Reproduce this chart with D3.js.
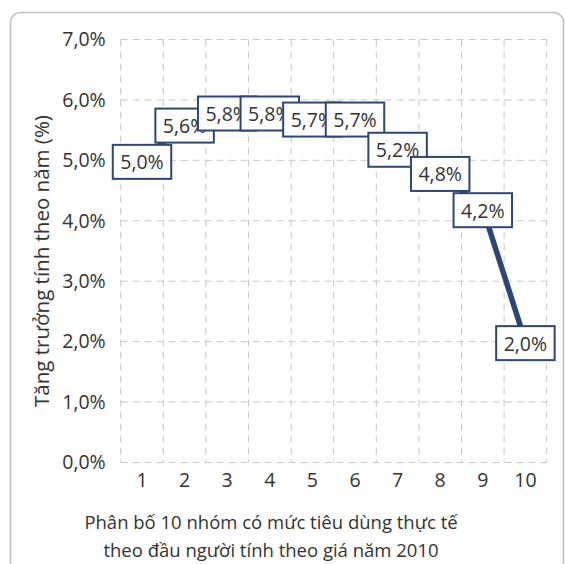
<!DOCTYPE html>
<html>
<head>
<meta charset="utf-8">
<script src="https://cdn.jsdelivr.net/npm/d3@7"></script>
<style>
  html, body { margin: 0; padding: 0; background: #fff; }
  svg { display: block; }
  text { font-family: "Open Sans", "Noto Sans", sans-serif; fill: #333; }
</style>
</head>
<body>
<svg id="chart" width="565" height="564"></svg>
<script>
// Consumption deciles (1 = lowest, 10 = highest)
const groups = ["1", "2", "3", "4", "5", "6", "7", "8", "9", "10"];
// Annual growth rate, %
const growth = [5.0, 5.6, 5.8, 5.8, 5.7, 5.7, 5.2, 4.8, 4.2, 2.0];
// Y-axis ticks, %
const yTicks = [0, 1, 2, 3, 4, 5, 6, 7];

const yTitle = "Tăng trưởng tính theo năm (%)";
const xTitle = ["Phân bố 10 nhóm có mức tiêu dùng thực tế",
                "theo đầu người tính theo giá năm 2010"];

const navy = "#2c4777";
const gridColor = "#c8c8c8";
const fmt = v => d3.format(".1f")(v).replace(".", ",") + "%";

const svg = d3.select("#chart");

// outer frame
svg.append("rect")
  .attr("x", 10.5).attr("y", 12.5)
  .attr("width", 553).attr("height", 580)
  .attr("rx", 10).attr("ry", 10)
  .attr("fill", "#fff")
  .attr("stroke", "#c4c4c4")
  .attr("stroke-width", 1.6);

const plot = { left: 120.7, right: 546.7, top: 39.5, bottom: 462.5 };

const x = d3.scaleBand().domain(groups).range([plot.left, plot.right]).padding(0);
const y = d3.scaleLinear().domain([0, 7]).range([plot.bottom, plot.top]);

const g = svg.append("g");

// horizontal grid
g.append("g").selectAll("line").data(yTicks).join("line")
  .attr("x1", plot.left).attr("x2", plot.right)
  .attr("y1", d => y(d)).attr("y2", d => y(d))
  .attr("stroke", gridColor).attr("stroke-width", 1)
  .attr("stroke-dasharray", "7,5");

// vertical grid at band boundaries
const bounds = groups.map(d => x(d)).concat([x(groups[groups.length - 1]) + x.bandwidth()]);
g.append("g").selectAll("line").data(bounds).join("line")
  .attr("x1", d => d).attr("x2", d => d)
  .attr("y1", plot.top).attr("y2", plot.bottom)
  .attr("stroke", gridColor).attr("stroke-width", 1)
  .attr("stroke-dasharray", "7,5");

// y axis labels
const yAxis = d3.axisLeft(y).tickValues(yTicks).tickFormat(fmt).tickSize(0).tickPadding(15);
const ya = g.append("g").attr("transform", `translate(${plot.left},0)`).call(yAxis);
ya.select(".domain").remove();
ya.selectAll("text").attr("font-size", 19.5).attr("fill", "#333")
  .attr("font-family", "'Open Sans', sans-serif");

// x axis labels
const xAxis = d3.axisBottom(x).tickSize(0).tickPadding(11);
const xa = g.append("g").attr("transform", `translate(0,${plot.bottom})`).call(xAxis);
xa.select(".domain").remove();
xa.selectAll("text").attr("font-size", 19.5).attr("fill", "#333")
  .attr("font-family", "'Open Sans', sans-serif");

// growth line
const line = d3.line()
  .x((d, i) => x(groups[i]) + x.bandwidth() / 2)
  .y(d => y(d));
g.append("path").datum(growth)
  .attr("d", line)
  .attr("fill", "none")
  .attr("stroke", navy)
  .attr("stroke-width", 5.5)
  .attr("stroke-linejoin", "round");

// boxed value labels
const labels = g.append("g").selectAll("g").data(growth).join("g")
  .attr("transform", (d, i) => `translate(${x(groups[i]) + x.bandwidth() / 2},${y(d)})`);
labels.each(function(d) {
  const sel = d3.select(this);
  const t = sel.append("text")
    .attr("text-anchor", "middle")
    .attr("y", 9)
    .attr("font-size", 19.5)
    .text(fmt(d));
  const w = t.node().getComputedTextLength() + 15;
  sel.insert("rect", "text")
    .attr("x", -w / 2).attr("y", -15.5)
    .attr("width", w).attr("height", 34)
    .attr("fill", "#fff")
    .attr("stroke", navy)
    .attr("stroke-width", 2);
});

// axis titles
svg.append("text")
  .attr("transform", "translate(49,261) rotate(-90)")
  .attr("text-anchor", "middle")
  .attr("font-size", 20.5)
  .text(yTitle);

svg.append("text")
  .attr("text-anchor", "middle")
  .attr("font-size", 18.5)
  .selectAll("tspan").data(xTitle).join("tspan")
  .attr("x", 271)
  .attr("y", (d, i) => 529 + i * 28)
  .text(d => d);
</script>
</body>
</html>
